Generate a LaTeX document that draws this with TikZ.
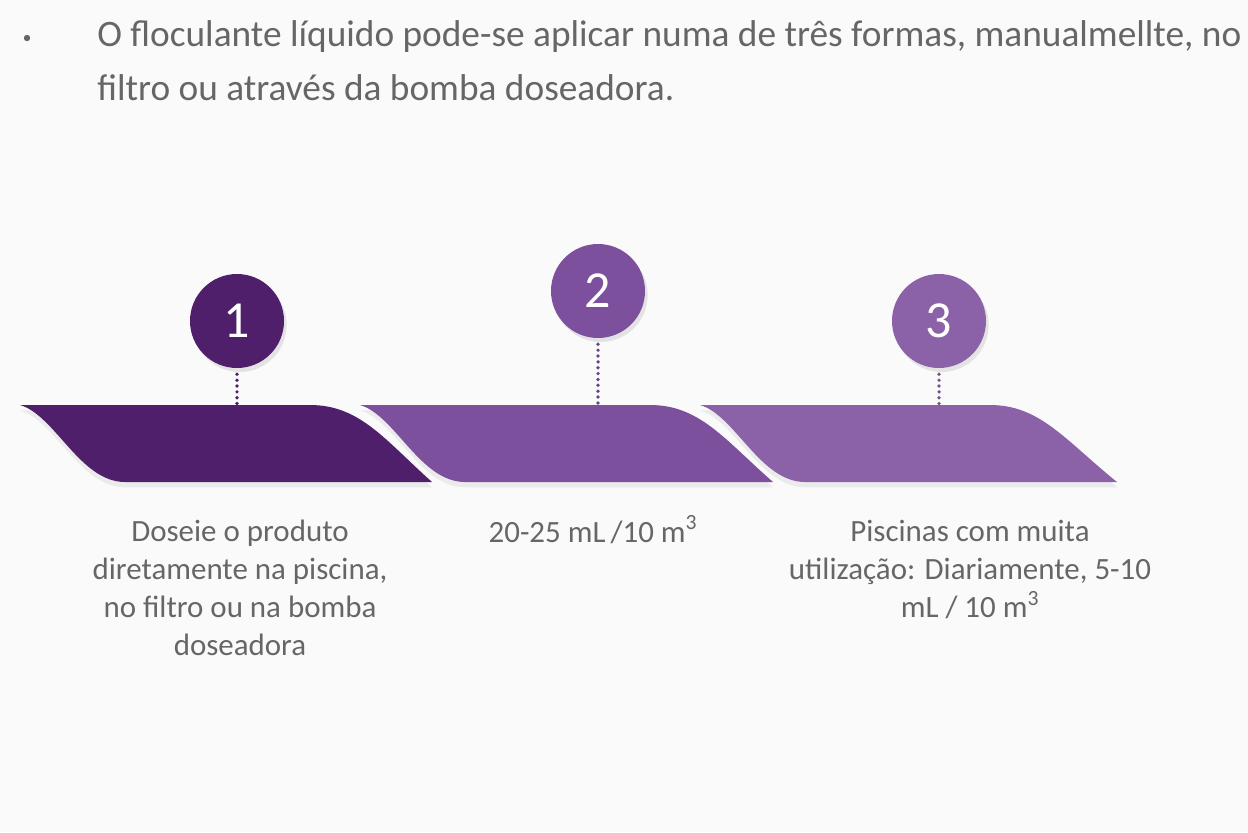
\documentclass[tikz,border=0pt]{standalone}
\usepackage{fontspec}
\setmainfont{Carlito}
\usetikzlibrary{shadows}
\definecolor{bgc}{HTML}{FAFAFA}
\definecolor{txt}{HTML}{666666}
\definecolor{pA}{HTML}{4F1F6B}
\definecolor{pB}{HTML}{7C509C}
\definecolor{pC}{HTML}{8B62A7}
\tikzset{
  num/.style={circle, minimum size=94*0.75pt, inner sep=0pt, text=white,
    font=\fontsize{39}{39}\selectfont,
    drop shadow={opacity=0.18, shadow xshift=2pt, shadow yshift=-3pt}},
  band/.style={draw=none, drop shadow={opacity=0.12, shadow xshift=0pt, shadow yshift=-4pt}},
  dotline/.style={line width=2.8pt, dash pattern=on 0pt off 4.4pt, line cap=round},
  lab/.style={align=center, text=txt, font=\fontsize{23.2}{28.4}\selectfont, inner sep=0pt},
  head/.style={anchor=base west, text=txt, font=\fontsize{28}{41.2}\selectfont, inner sep=0pt}
}
\begin{document}
\begin{tikzpicture}[x=0.75pt, y=-0.75pt]
\useasboundingbox (0,0) rectangle (1248,832);
\fill[bgc] (0,0) rectangle (1248,832);

% header
\fill[txt] (27,38) circle (3.2);
\node[head] (h1) at (97,46) {O floculante líquido pode-se aplicar numa de três formas, manualmellte, no};
\node[head] (h2) at (97,100) {filtro ou através da bomba doseadora.};

% bands
\foreach \a/\col/\bl/\br in {0/pA/125/432, 340/pB/465/773, 680/pC/805/1117}{
  \fill[\col, band] (20+\a,405) -- (310+\a,405)
     .. controls (360+\a,405) and (385+\a,440) .. (\br,482)
     -- (\bl,482)
     .. controls (\bl-45,482) and (55+\a,415) .. (20+\a,405) -- cycle;
}

% named points on band tops
\coordinate (t1) at (237,405);
\coordinate (t2) at (598,406);
\coordinate (t3) at (939,406);

% circles
\node[num, fill=pA] (c1) at (237,321) {1};
\node[num, fill=pB] (c2) at (598,291) {2};
\node[num, fill=pC] (c3) at (939,321) {3};

% dotted connectors
\draw[dotline, pA] (c1.south) ++(0,6) -- (t1);
\draw[dotline, pB!85!black] (c2.south) ++(0,6) -- (t2);
\draw[dotline, pC!85!black] (c3.south) ++(0,6) -- (t3);

% labels
\node[lab, anchor=north] (l1) at (240,520) {Doseie o produto\\diretamente na piscina,\\no filtro ou na bomba\\doseadora};
\node[lab, anchor=base] (l2) at (593,542) {20-25 mL\,/10 m\textsuperscript{3}};
\node[lab, anchor=north] (l3) at (970,520) {Piscinas com muita\\utilização: Diariamente, 5-10\\mL / 10 m\textsuperscript{3}};
\end{tikzpicture}
\end{document}
